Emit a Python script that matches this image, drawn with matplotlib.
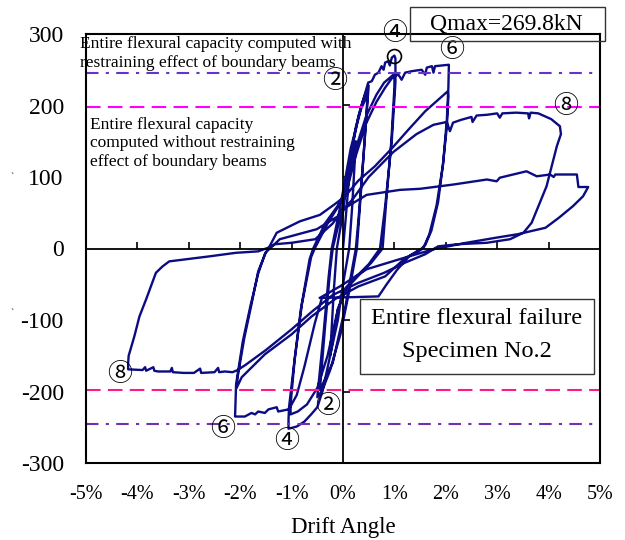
import numpy as np
import matplotlib
matplotlib.use('Agg')
import matplotlib.pyplot as plt
from matplotlib.patches import Rectangle

plt.rcParams['font.family'] = ['Liberation Serif', 'DejaVu Serif']

# load history, one pair of arrays per group of cycles (drift in %, shear in kN)
drift_c1 = [0.0, 0.05, 0.12, 0.25, 0.18, 0.12, 0.0, -0.1, -0.25, -0.18, -0.12]
load_c1 = [0, 40, 100, 150, 60, 0, -50, -100, -150, -60, 0]

drift_c2 = [0.0, 0.1, 0.25, 0.38, 0.5, 0.42, 0.33, 0.27, 0.12, -0.05, -0.25, -0.4,
            -0.5, -0.38, -0.28, -0.22, -0.05, 0.15, 0.35, 0.48, 0.4, 0.3, 0.25,
            0.05, -0.2, -0.45, -0.35, -0.25, -0.2]
load_c2 = [50, 110, 170, 205, 228, 150, 60, 0, -60, -120, -170, -198,
           -208, -120, -40, 0, 60, 140, 195, 215, 130, 40, 0,
           -80, -160, -198, -110, -30, 0]

drift_c4 = [0.0, 0.15, 0.3, 0.49, 0.56, 0.62, 0.69, 0.75, 0.79, 0.82, 0.88, 0.91,
            0.95, 1.0, 1.02, 1.02, 0.95, 0.82, 0.72,
            0.5, 0.25, 0.05, -0.1, -0.25, -0.4, -0.5, -0.62, -0.75, -0.9, -1.06,
            -1.06, -1.05, -0.95, -0.82, -0.65, -0.58,
            -0.35, -0.1, 0.05, 0.25, 0.45, 0.65, 0.8, 0.9, 0.98, 1.0,
            1.0, 0.94, 0.84, 0.77,
            0.55, 0.3, 0.08, -0.1, -0.3, -0.5, -0.7, -0.88, -1.02,
            -1.02, -0.94, -0.8, -0.62, -0.55]
load_c4 = [60, 130, 185, 232, 234, 243, 246, 255, 250, 260, 262, 256,
           267, 269.8, 266, 232, 152, 59, 0,
           -22, -40, -55, -85, -150, -200, -222, -232, -242, -249, -252,
           -240, -222, -160, -85, -15, 0,
           35, 60, 80, 140, 185, 215, 232, 238, 243, 245,
           225, 150, 65, 0,
           -20, -38, -55, -85, -150, -195, -218, -228, -232,
           -218, -155, -78, -12, 0]

drift_c6 = [-0.3, -0.1, 0.05, 0.25, 0.45, 0.65, 0.82, 0.98, 1.08, 1.14, 1.21,
            1.34, 1.53, 1.6, 1.63, 1.73, 1.76, 1.79, 2.05,
            2.06, 2.05, 2.02, 1.95, 1.85, 1.72, 1.6, 1.53,
            1.3, 1.05, 0.85, 0.69, 0.2, -0.41, -0.55, -0.75, -0.9, -1.03,
            -1.06, -1.26, -1.29, -1.45, -1.52, -1.65, -1.71, -1.78, -1.91, -2.1,
            -2.1, -2.08, -1.95, -1.8, -1.65, -1.52, -1.45,
            -1.29, -0.84, -0.45, -0.16, 0.04, 0.3, 0.62, 0.95, 1.27, 1.6, 1.85, 2.04,
            2.05, 2.02, 1.94, 1.82, 1.68, 1.56,
            1.2, 0.82, 0.3, -0.16, -0.61, -1.0, -1.52, -1.97, -2.07,
            -2.05, -1.92, -1.78, -1.65, -1.5, -1.42]
load_c6 = [35, 58, 75, 130, 175, 205, 225, 241, 243, 236, 246,
           248, 250, 243, 253, 255, 246, 255, 257,
           257, 225, 180, 120, 65, 25, 5, 0,
           -10, -30, -50, -67, -68, -69, -105, -165, -205, -222,
           -225, -228, -222, -225, -230, -228, -232, -230, -235, -235,
           -235, -190, -130, -80, -35, -8, 0,
           22, 38, 47, 62, 73, 95, 115, 140, 166, 192, 208, 220,
           212, 170, 115, 60, 20, 0,
           -14, -39, -53, -71, -95, -120, -148, -180, -195,
           -180, -125, -78, -32, -5, 0]

drift_c8 = [-1.23, -0.51, -0.1, 0.2, 0.5, 0.98, 1.43, 1.76, 2.02, 2.08, 2.14,
            2.3, 2.5, 2.52, 2.6, 2.8, 3.0, 3.05, 3.1, 3.37, 3.6, 3.62, 3.65,
            3.8, 4.05, 4.22, 4.24,
            4.16, 4.06, 3.96, 3.83, 3.67, 3.51, 3.25, 2.8, 2.24, 1.85,
            1.6, 1.2, 0.8, 0.3, -0.2, -0.6, -1.0, -1.5, -1.9, -2.05, -2.15,
            -2.3, -2.41, -2.43, -2.5, -2.76, -2.78, -2.9, -3.1, -3.31, -3.33,
            -3.36, -3.6, -3.67, -3.69, -3.83, -3.85, -3.9, -4.18, -4.18,
            -4.17, -4.06, -3.96, -3.83, -3.64, -3.51, -3.38, -3.05, -2.6,
            -2.08, -1.65, -1.46, -1.32, -1.0, -0.54, -0.2, 0.0, 0.46, 1.11,
            1.5, 2.15, 2.8, 2.99, 3.05, 3.57, 3.77, 4.03, 4.1, 4.13, 4.55,
            4.58, 4.77,
            4.67, 4.47, 4.2, 3.94, 3.4, 2.97, 2.4, 1.76, 1.1, 0.46, -0.06, -0.45]
load_c8 = [13, 27, 45, 70, 100, 135, 160, 173, 177, 164, 176,
           180, 184, 177, 186, 187, 189, 183, 189, 190, 189, 182, 190,
           189, 181, 171, 160,
           143, 115, 87, 64, 36, 22, 13, 8, 6, 3,
           -8, -20, -34, -48, -65, -88, -113, -142, -163, -170, -173,
           -172, -173, -167, -173, -174, -168, -174, -174, -173, -167,
           -172, -172, -171, -166, -171, -166, -170, -169, -160,
           -150, -123, -95, -71, -34, -25, -18, -15, -11,
           -6, -4, 1, 6, 8, 13, 35, 55, 75, 82,
           83.5, 89.5, 96.5, 94, 99, 108, 101, 103.5, 100, 103.5, 103.5,
           86, 86,
           73, 59, 43, 29, 20, 15, 8, -1, -15, -29, -53, -69]

# computed flexural capacities (kN)
q_with_beams = 246
q_without_beams = 198
q_max = 269.8
drift_qmax = 1.0

xticks = [-5, -4, -3, -2, -1, 0, 1, 2, 3, 4, 5]
xticklabels = ['-5%', '-4%', '-3%', '-2%', '-1%', '0%', '1%', '2%', '3%', '4%', '5%']
yticks = [-300, -200, -100, 0, 100, 200, 300]
yticklabels = ['-300', '-200', '-100', '0', '100', '200', '300']

drift = np.concatenate([drift_c1, drift_c2, drift_c4, drift_c6, drift_c8])
load = np.concatenate([load_c1, load_c2, load_c4, load_c6, load_c8])

fig = plt.figure(figsize=(6.25, 5.4), dpi=100)
pos = [86 / 625, 1 - 463 / 540, 514 / 625, 429 / 540]

# data axes: spines through the origin, ticks drawn on them
ax = fig.add_axes(pos)
ax.set_xlim(-5, 5)
ax.set_ylim(-300, 300)
ax.spines['left'].set_position(('data', 0))
ax.spines['bottom'].set_position(('data', 0))
ax.spines['top'].set_visible(False)
ax.spines['right'].set_visible(False)
for s in ('left', 'bottom'):
    ax.spines[s].set_linewidth(1.3)
ax.set_xticks(xticks)
ax.set_yticks(yticks)
ax.tick_params(direction='in', length=5, width=1.2,
               labelbottom=False, labelleft=False)

ax.plot(drift, load, color='#0c0c82', lw=1.7, zorder=2, solid_joinstyle='round')

ax.axhline(q_with_beams, color='#6633cc', lw=1.5, ls=(0, (6, 3.5, 1.5, 3.5)), zorder=3)
ax.axhline(-q_with_beams, color='#7030b0', lw=1.5, ls=(0, (6, 3.5, 1.5, 3.5)), zorder=3)
ax.axhline(q_without_beams, color='#ff00ff', lw=1.5, ls=(0, (7, 3.5)), zorder=3)
ax.axhline(-q_without_beams, color='#ff1a8c', lw=1.5, ls=(0, (7, 3.5)), zorder=3)

ax.plot([drift_qmax], [q_max], 'o', ms=10, mfc='none', mec='black', mew=1.2, zorder=4)

# cycle numbers
circ = ['Noto Sans CJK JP', 'DejaVu Sans']
for x, y, s in [(1.01, 302, '④'), (2.12, 278, '⑥'), (-0.16, 234, '②'),
                (4.34, 199, '⑧'), (-4.34, -176, '⑧'), (-2.35, -253, '⑥'),
                (-1.09, -269, '④'), (-0.29, -220, '②')]:
    ax.text(x, y, s, family=circ, fontsize=18, ha='center', va='center',
            zorder=5, clip_on=False)

ax.text(-5.12, 273, 'Entire flexural capacity computed with\n'
        'restraining effect of boundary beams',
        fontsize=12.5, ha='left', va='center', linespacing=1.2, zorder=5)
ax.text(-4.93, 147, 'Entire flexural capacity\ncomputed without restraining\n'
        'effect of boundary beams',
        fontsize=12.5, ha='left', va='center', linespacing=1.22, zorder=5)

# outer frame carrying the tick labels
fr = fig.add_axes(pos, facecolor='none', sharex=ax, sharey=ax)
for s in fr.spines.values():
    s.set_linewidth(1.5)
fr.set_xticks(xticks)
fr.set_xticklabels(xticklabels, fontsize=14.5)
fr.set_yticks(yticks)
fr.set_yticklabels(yticklabels, fontsize=17)
fr.tick_params(axis='both', length=0)
fr.tick_params(axis='x', pad=16)
fr.tick_params(axis='y', pad=16)
fr.set_xlabel('Drift Angle', fontsize=16.5, labelpad=9)

fig.patches.append(Rectangle((410 / 625, 1 - 41 / 540), 195 / 625, 34 / 540,
                             transform=fig.transFigure, fc='none', ec='#333333', lw=1.0))
fig.text(506 / 625, 1 - 24 / 540, 'Qmax=269.8kN', fontsize=17, ha='center', va='center')

fig.patches.append(Rectangle((360 / 625, 1 - 374 / 540), 234 / 625, 75 / 540,
                             transform=fig.transFigure, fc='white', ec='#333333',
                             lw=1.0, zorder=6))
fig.text(477 / 625, 1 - 319 / 540, 'Entire flexural failure', fontsize=17.5,
         ha='center', va='center', zorder=7)
fig.text(477 / 625, 1 - 351 / 540, 'Specimen No.2', fontsize=17.5,
         ha='center', va='center', zorder=7)

fig.text(12 / 625, 1 - 178 / 540, '`', fontsize=7, ha='center', va='center')
fig.text(12 / 625, 1 - 314 / 540, '`', fontsize=7, ha='center', va='center')

fig.savefig('out.png', dpi=100)
